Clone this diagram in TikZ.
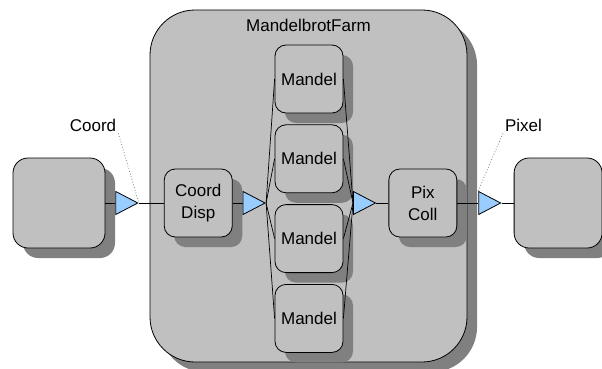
\documentclass[tikz,border=0pt]{standalone}
\usepackage{fontspec}
\setmainfont{Liberation Sans}
\usetikzlibrary{positioning, shapes.geometric, shadows}
\definecolor{boxgray}{RGB}{192,192,192}
\definecolor{shadowgray}{RGB}{128,128,128}
\definecolor{portblue}{RGB}{153,204,255}

\begin{document}
\begin{tikzpicture}[x=1pt, y=-1pt, font=\fontsize{17}{22}\selectfont,
    shade/.style={drop shadow={shadow xshift=10pt, shadow yshift=-10pt, fill=shadowgray, opacity=1}},
    box/.style={draw, line width=0.8pt, fill=boxgray, rounded corners=11pt, inner sep=0pt, align=center, minimum width=68pt, minimum height=68pt, shade},
    bigbox/.style={box, rounded corners=15pt, minimum height=90pt},
    farm/.style={box, rounded corners=45pt, minimum width=317pt, minimum height=352pt},
    port/.style={draw, line width=0.8pt, fill=portblue, isosceles triangle, isosceles triangle stretches, inner sep=0pt, minimum width=23pt, minimum height=22pt},
    wire/.style={draw, line width=0.7pt},
    note/.style={inner sep=2pt},
    noteline/.style={draw=gray, dotted, line width=0.8pt}]
    \useasboundingbox (0,0) rectangle (602,369);

    \node[farm] (farm) at (308.5,186) {};
    \node (title) at (308.5,25) {MandelbrotFarm};

    \node[bigbox, minimum width=92pt] (lbox) at (59,203) {};
    \node[port, right=10pt of lbox] (cport) {};
    \node[box, right=25pt of cport] (cdisp) {Coord\\Disp};
    \node[port, right=10pt of cdisp] (sport) {};

    \node[box] (m1) at (309,79) {Mandel};
    \node[box, below=11pt of m1] (m2) {Mandel};
    \node[box, below=11pt of m2] (m3) {Mandel};
    \node[box, below=11pt of m3] (m4) {Mandel};

    \node[port, anchor=lower side] (gport) at (353,203) {};
    \node[box, right=12pt of gport] (pcoll) {Pix\\Coll};
    \node[port, right=21pt of pcoll] (pport) {};
    \node[bigbox, minimum width=88pt, right=12pt of pport] (rbox) {};

    \draw[wire] (lbox) -- (cport);
    \draw[wire] (cport.apex) -- (cdisp);
    \draw[wire] (cdisp) -- (sport);
    \foreach \m in {m1,m2,m3,m4} {
        \draw[wire] (sport.apex) -- (\m.west);
        \draw[wire] (\m.east) -- (gport.lower side);
    }
    \draw[wire] (gport.apex) -- (pcoll);
    \draw[wire] (pcoll) -- (pport);
    \draw[wire] (pport.apex) -- (rbox);

    \node[note] (clabel) at (93,125) {Coord};
    \node[note] (plabel) at (523.5,125) {Pixel};
    \draw[noteline] (clabel.south east) -- (cport.apex);
    \draw[noteline] (plabel.south west) -- (pport.left corner);
\end{tikzpicture}
\end{document}
